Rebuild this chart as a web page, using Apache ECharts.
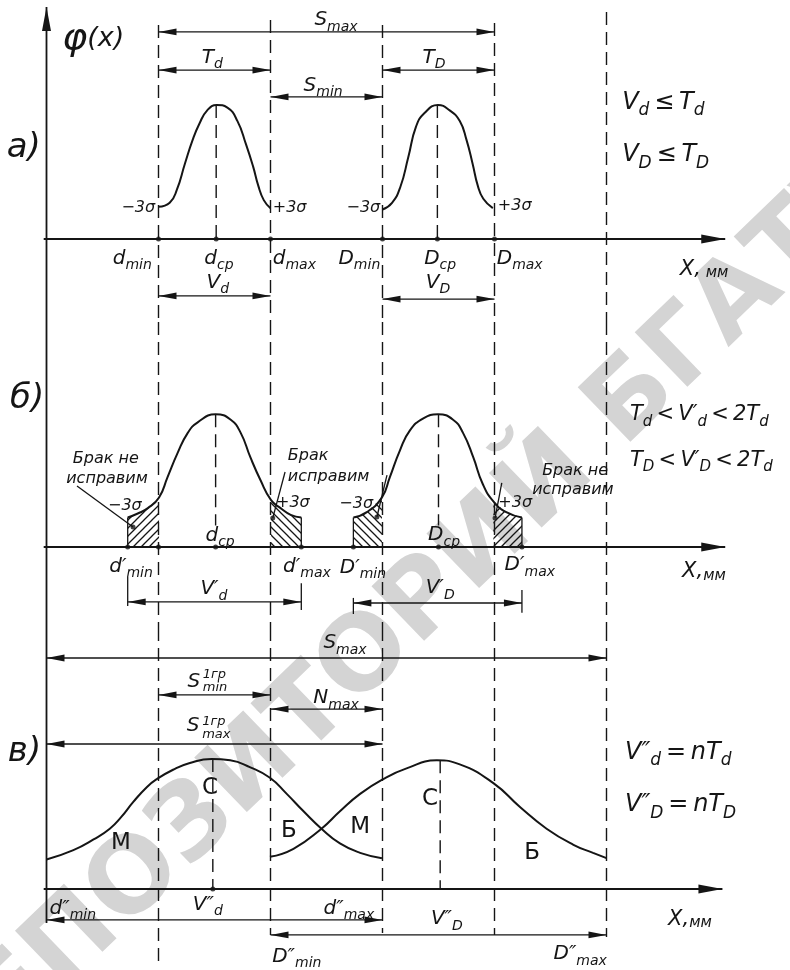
<!DOCTYPE html>
<html>
<head>
<meta charset="utf-8">
<script src="https://cdn.jsdelivr.net/npm/echarts@6/dist/echarts.min.js"></script>
<style>
  html, body { margin: 0; background: #fff; }
  #chart { width: 790px; height: 970px; }
</style>
</head>
<body>
<div id="chart"></div>
<script>
// x: units along X (2 units = one tolerance field), y: phi(x), peak ~ 1

// ---- а) curves
const curveA1X = [2.0, 2.2, 2.33, 2.47, 2.61, 2.73, 2.87, 3.04, 3.23, 3.41, 3.56, 3.69, 3.78, 3.88, 4.0]
const curveA1Y = [0.24, 0.27, 0.37, 0.56, 0.74, 0.86, 0.96, 1.0, 0.98, 0.88, 0.71, 0.54, 0.40, 0.29, 0.23]
const curveA2X = [6.0, 6.17, 6.32, 6.46, 6.6, 6.75, 6.99, 7.2, 7.38, 7.5, 7.61, 7.7, 7.8, 7.97]
const curveA2Y = [0.22, 0.27, 0.39, 0.61, 0.84, 0.94, 1.0, 0.96, 0.88, 0.74, 0.56, 0.40, 0.30, 0.23]

// ---- б) curves
const curveB1X = [1.45, 1.63, 1.81, 2.01, 2.16, 2.34, 2.52, 2.70, 3.02, 3.29, 3.47, 3.64, 3.82, 4.01, 4.18, 4.36, 4.55]
const curveB1Y = [0.22, 0.25, 0.29, 0.37, 0.52, 0.70, 0.85, 0.93, 0.99, 0.95, 0.85, 0.67, 0.50, 0.35, 0.29, 0.24, 0.22]
const curveB2X = [5.48, 5.72, 5.99, 6.13, 6.31, 6.49, 6.73, 6.99, 7.26, 7.44, 7.62, 7.79, 7.98, 8.21, 8.49]
const curveB2Y = [0.22, 0.26, 0.37, 0.52, 0.72, 0.87, 0.96, 0.99, 0.95, 0.85, 0.67, 0.47, 0.34, 0.26, 0.22]

// ---- в) curves
const curveC1X = [0.0, 0.48, 0.84, 1.13, 1.34, 1.55, 1.79, 1.97, 2.26, 2.56, 2.95, 3.28, 3.63, 3.99, 4.29, 4.59, 4.91, 5.24, 5.60, 5.99]
const curveC1Y = [0.22, 0.29, 0.37, 0.45, 0.54, 0.65, 0.76, 0.82, 0.89, 0.94, 0.97, 0.96, 0.91, 0.83, 0.71, 0.58, 0.45, 0.34, 0.27, 0.23]
const curveC2X = [3.99, 4.41, 4.91, 5.24, 5.60, 6.01, 6.43, 6.97, 7.38, 7.98, 8.46, 8.93, 9.41, 9.76, 10.0]
const curveC2Y = [0.24, 0.30, 0.45, 0.58, 0.71, 0.82, 0.90, 0.96, 0.93, 0.79, 0.61, 0.45, 0.33, 0.27, 0.23]

// dimension arrows: [x1, x2, y, head at x1, head at x2]
const dimsA = [[2, 8, 1.545, 1, 1], [2, 4, 1.261, 1, 1], [6, 8, 1.261, 1, 1], [4, 6, 1.06, 1, 1], [2, 4, -0.425, 1, 1], [6, 8, -0.448, 1, 1]]
const dimsB = [[1.45, 4.55, -0.41, 1, 1], [5.48, 8.49, -0.418, 1, 1]]
const dimsC = [[0, 10, 1.724, 1, 1], [2, 4, 1.448, 1, 1], [4, 6, 1.343, 1, 1], [0, 6, 1.082, 1, 1], [0, 6, -0.231, 1, 1], [4, 10, -0.343, 1, 1]]

// vertical guide lines (dashed) and where they start / end
const guideX = [2, 4, 6, 8, 10]
const guideTop = [1.597, 1.634, 1.597, 1.612, 1.694]
const guideEnd = [-0.59, -0.343, -0.328, -0.343, -0.358]

// centre lines [x, yTop, x, yBottom]
const centerA = [[3.03, 1.0, 3.03, 0], [6.98, 1.0, 6.98, 0]]
const centerB = [[3.02, 0.99, 3.02, 0.16], [7.0, 0.99, 7.0, 0.16]]
const centerC = [[2.97, 0.97, 2.97, 0], [7.03, 0.96, 7.03, 0]]

// short solid strokes [x1, y1, x2, y2]
const strokesB = [
  [1.45, -0.224, 1.45, -0.44], [4.55, -0.27, 4.55, -0.47], [5.48, -0.38, 5.48, -0.5], [8.49, -0.32, 8.49, -0.49],
  [1.45, 0, 1.45, 0.22], [4.55, 0, 4.55, 0.22], [5.48, 0, 5.48, 0.22], [8.49, 0, 8.49, 0.22],
  [0.545, 0.455, 1.545, 0.149], [4.26, 0.56, 4.04, 0.216], [6.08, 0.537, 5.90, 0.224], [8.13, 0.478, 8.01, 0.216]
]

// hatched rejects: [xFrom, xTo, curve, direction]
const hatchB = [[1.45, 2.01, 0, 1], [4.01, 4.55, 0, -1], [5.48, 5.99, 1, -1], [7.98, 8.49, 1, 1]]

// dots on the axes
const dotsA = [[2, 0], [3.03, 0], [4, 0], [6, 0], [6.98, 0], [8, 0]]
const dotsB = [[1.45, 0], [2, 0], [3.02, 0], [4.55, 0], [5.48, 0], [7.0, 0], [8.49, 0], [1.545, 0.149], [4.04, 0.216], [5.90, 0.224], [8.01, 0.216]]
const dotsC = [[2.97, 0]]

// watermark text
const watermark = 'РЕПОЗИТОРИЙ БГАТУ'

// labels: [x, y, text, align]
const labelsA = [
  [-0.71, 0.68, '{P|а)}', 'left'],
  [0.28, 1.49, '{H|φ}{h|(x)}', 'left'],
  [5.17, 1.62, '{B|S}{s|max}'],
  [2.96, 1.34, '{B|T}{s|d}'],
  [6.92, 1.34, '{B|T}{s|D}'],
  [4.94, 1.13, '{B|S}{s|min}'],
  [3.06, -0.34, '{B|V}{s|d}'],
  [6.99, -0.34, '{B|V}{s|D}'],
  [1.88, -0.16, '{B|d}{s|min}', 'right'],
  [3.08, -0.16, '{B|d}{s|ср}'],
  [4.04, -0.16, '{B|d}{s|max}', 'left'],
  [5.96, -0.16, '{B|D}{s|min}', 'right'],
  [7.03, -0.16, '{B|D}{s|ср}'],
  [8.04, -0.16, '{B|D}{s|max}', 'left'],
  [11.31, -0.23, '{m|X,}{k| мм}', 'left'],
  [1.94, 0.23, '{t|−3σ}', 'right'],
  [4.04, 0.23, '{t|+3σ}', 'left'],
  [5.96, 0.23, '{t|−3σ}', 'right'],
  [8.06, 0.25, '{t|+3σ}', 'left'],
  [10.28, 1.0, '{F|V}{f|d}{F|\u2009≤\u2009T}{f|d}', 'left'],
  [10.28, 0.61, '{F|V}{f|D}{F|\u2009≤\u2009T}{f|D}', 'left']
]
const labelsB = [
  [-0.65, 1.10, '{P|б)}', 'left'],
  [2.99, -0.33, '{B|V′}{s|d}'],
  [7.03, -0.32, '{B|V′}{s|D}'],
  [1.51, -0.16, '{B|d′}{s|min}'],
  [3.10, 0.07, '{B|d}{s|ср}'],
  [4.65, -0.16, '{B|d′}{s|max}'],
  [5.65, -0.17, '{B|D′}{s|min}'],
  [7.10, 0.075, '{B|D}{s|ср}'],
  [8.63, -0.15, '{B|D′}{s|max}'],
  [11.35, -0.19, '{m|X,}{k|мм}', 'left'],
  [1.06, 0.66, '{t|Брак не}'],
  [1.08, 0.51, '{t|исправим}'],
  [1.40, 0.31, '{t|−3σ}'],
  [4.31, 0.68, '{t|Брак}', 'left'],
  [4.31, 0.52, '{t|исправим}', 'left'],
  [4.40, 0.33, '{t|+3σ}'],
  [5.53, 0.32, '{t|−3σ}'],
  [9.44, 0.57, '{t|Брак не}'],
  [9.40, 0.43, '{t|исправим}'],
  [8.37, 0.33, '{t|+3σ}'],
  [10.42, 0.97, '{G|T}{g|d}{G|\u2009<\u2009V′}{g|d}{G|\u2009<\u20092T}{g|d}', 'left'],
  [10.42, 0.63, '{G|T}{g|D}{G|\u2009<\u2009V′}{g|D}{G|\u2009<\u20092T}{g|d}', 'left']
]
const labelsC = [
  [-0.69, 1.02, '{P|в)}', 'left'],
  [5.33, 1.82, '{B|S}{s|max}'],
  [2.63, 1.53, '{B|S}'],
  [2.79, 1.60, '{u|1гр}', 'left'],
  [2.79, 1.50, '{u|min}', 'left'],
  [5.17, 1.41, '{B|N}{s|max}'],
  [2.62, 1.20, '{B|S}'],
  [2.78, 1.25, '{u|1гр}', 'left'],
  [2.78, 1.15, '{u|max}', 'left'],
  [2.88, -0.13, '{B|V″}{s|d}'],
  [7.15, -0.24, '{B|V″}{s|D}'],
  [0.47, -0.16, '{B|d″}{s|min}'],
  [5.40, -0.16, '{B|d″}{s|max}'],
  [4.47, -0.52, '{B|D″}{s|min}'],
  [9.53, -0.50, '{B|D″}{s|max}'],
  [11.1, -0.23, '{m|X,}{k|мм}', 'left'],
  [2.92, 0.75, '{L|С}'],
  [6.85, 0.67, '{L|С}'],
  [1.33, 0.34, '{L|М}'],
  [4.33, 0.43, '{L|Б}'],
  [5.60, 0.46, '{L|М}'],
  [8.67, 0.27, '{L|Б}'],
  [10.33, 1.0, '{F|V″}{f|d}{F|\u2009=\u2009nT}{f|d}', 'left'],
  [10.33, 0.61, '{F|V″}{f|D}{F|\u2009=\u2009nT}{f|D}', 'left']
]

// ---------------------------------------------------------------
const FONT = 'DejaVu Sans'
const INK = '#151515'
const X0 = 46.5, UX = 56, PX = 134, XMAX = 13
const panels = [
  {base: 239, top: 4, bottom: 322, axisEnd: 12.12},
  {base: 547, top: 322, bottom: 628, axisEnd: 12.12},
  {base: 889, top: 628, bottom: 970, axisEnd: 12.07}
]
panels.forEach(p => {
  p.ymin = -(p.bottom - p.base) / PX
  p.ymax = (p.base - p.top) / PX
})

const tok = (size, extra) => Object.assign({
  fontFamily: FONT, fontStyle: 'italic', fontSize: size, fill: INK, verticalAlign: 'bottom'
}, extra || {})
const RICH = {
  B: tok(20, {padding: [0, 0, 4, 0]}),
  s: tok(14),
  u: tok(13, {verticalAlign: 'middle'}),
  F: tok(24, {padding: [0, 0, 5, 0]}),
  f: tok(17),
  G: tok(21, {padding: [0, 0, 4, 0]}),
  g: tok(15),
  P: tok(34, {verticalAlign: 'middle'}),
  H: tok(38, {verticalAlign: 'middle'}),
  h: tok(27, {verticalAlign: 'middle'}),
  t: tok(16, {verticalAlign: 'middle'}),
  m: tok(21, {padding: [0, 0, 1, 0]}),
  k: tok(15),
  L: tok(23, {verticalAlign: 'middle', fontStyle: 'normal'})
}

function hatchTile(dir) {
  const n = 8
  const c = document.createElement('canvas')
  c.width = n
  c.height = n
  const g = c.getContext('2d')
  g.strokeStyle = INK
  g.lineWidth = 1.3
  g.beginPath()
  if (dir > 0) {
    g.moveTo(-1, n + 1); g.lineTo(n + 1, -1)
    g.moveTo(-1, 1); g.lineTo(1, -1)
    g.moveTo(n - 1, n + 1); g.lineTo(n + 1, n - 1)
  } else {
    g.moveTo(-1, -1); g.lineTo(n + 1, n + 1)
    g.moveTo(-1, n - 1); g.lineTo(1, n + 1)
    g.moveTo(n - 1, -1); g.lineTo(n + 1, 1)
  }
  g.stroke()
  return c
}
const hatchFwd = {image: hatchTile(1), repeat: 'repeat'}
const hatchBack = {image: hatchTile(-1), repeat: 'repeat'}

const seg = (a, b, width, dash) => ({
  type: 'line',
  shape: {x1: a[0], y1: a[1], x2: b[0], y2: b[1]},
  style: {stroke: INK, lineWidth: width, lineDash: dash || null}
})

function head(tip, from, len, w) {
  const dx = tip[0] - from[0], dy = tip[1] - from[1]
  const l = Math.hypot(dx, dy)
  const ux = dx / l, uy = dy / l
  const bx = tip[0] - ux * len, by = tip[1] - uy * len
  return {
    type: 'polygon',
    shape: {points: [tip, [bx - uy * w, by + ux * w], [bx + uy * w, by - ux * w]]},
    style: {fill: INK}
  }
}

function custom(idx, list, render) {
  return {
    type: 'custom', xAxisIndex: idx, yAxisIndex: idx, silent: true, clip: false, z: 3,
    data: list.map(() => [0, 0]),
    renderItem: (params, api) => render(list[params.dataIndex], api)
  }
}

const drawSegs = (width, dash) => (d, api) =>
  seg(api.coord([d[0], d[1]]), api.coord([d[2], d[3]]), width, dash)

function drawDim(d, api) {
  const a = api.coord([d[0], d[2]]), b = api.coord([d[1], d[2]])
  const children = [seg(a, b, 1.3)]
  if (d[3]) children.push(head(a, b, 18, 3.4))
  if (d[4]) children.push(head(b, a, 18, 3.4))
  return {type: 'group', children}
}

function drawAxisArrow(d, api) {
  const a = api.coord([d[0], d[1]]), b = api.coord([d[2], d[3]])
  return {type: 'group', children: [seg(a, b, 1.8), head(b, a, 24, 4.5)]}
}

function drawLabel(d, api) {
  const p = api.coord([d[0], d[1]])
  return {
    type: 'text', x: p[0], y: p[1],
    style: {
      text: d[2], rich: RICH, align: d[3] || 'center', verticalAlign: 'middle',
      fill: INK, font: 'italic 16px "' + FONT + '"'
    }
  }
}

const curvesB = [[curveB1X, curveB1Y], [curveB2X, curveB2Y]]
function drawHatch(d, api) {
  const [cx, cy] = curvesB[d[2]]
  const pts = []
  cx.forEach((x, i) => {
    if (x >= d[0] - 1e-6 && x <= d[1] + 1e-6) pts.push(api.coord([x, cy[i]]))
  })
  pts.push(api.coord([d[1], 0]))
  pts.push(api.coord([d[0], 0]))
  return {type: 'polygon', shape: {points: pts}, style: {fill: d[3] > 0 ? hatchFwd : hatchBack}}
}

const curveSeries = (idx, xs, ys) => ({
  type: 'line', xAxisIndex: idx, yAxisIndex: idx, smooth: 0.5, showSymbol: false, silent: true, z: 4,
  lineStyle: {color: INK, width: 2},
  data: xs.map((x, i) => [x, ys[i]])
})

const dotSeries = (idx, pts) => ({
  type: 'scatter', xAxisIndex: idx, yAxisIndex: idx, symbolSize: 5, silent: true, z: 5,
  itemStyle: {color: INK}, data: pts
})

// guides, main vertical axis and x axes, split by panel
const guideSegs = panels.map((p, k) => guideX.map((x, i) => [
  x, k === 0 ? guideTop[i] : p.ymax, x, k === 2 ? guideEnd[i] : p.ymin
]))
const vAxis = [
  [], [[0, panels[1].ymin, 0, panels[1].ymax]], [[0, panels[2].ymax, 0, -0.254]]
]
const arrows = panels.map((p, k) => {
  const list = [[-0.05, 0, p.axisEnd, 0]]
  if (k === 0) list.push([0, p.ymin, 0, 1.731])
  return list
})

const series = []
const dims = [dimsA, dimsB, dimsC]
const centers = [centerA, centerB, centerC]
const labels = [labelsA, labelsB, labelsC]
const dots = [dotsA, dotsB, dotsC]
const curves = [
  [[curveA1X, curveA1Y], [curveA2X, curveA2Y]],
  curvesB,
  [[curveC1X, curveC1Y], [curveC2X, curveC2Y]]
]
panels.forEach((p, k) => {
  series.push(custom(k, guideSegs[k], drawSegs(1.4, [13, 7])))
  series.push(custom(k, centers[k], drawSegs(1.4, [13, 7])))
  series.push(custom(k, vAxis[k], drawSegs(1.8)))
  series.push(custom(k, arrows[k], drawAxisArrow))
  series.push(custom(k, dims[k], drawDim))
  series.push(custom(k, labels[k], drawLabel))
  curves[k].forEach(c => series.push(curveSeries(k, c[0], c[1])))
  series.push(dotSeries(k, dots[k]))
})
series.push(custom(1, hatchB, drawHatch))
series.push(custom(1, strokesB, drawSegs(1.3)))

const chart = echarts.init(document.getElementById('chart'), null, {renderer: 'canvas'})
chart.setOption({
  backgroundColor: '#ffffff',
  animation: false,
  graphic: [{
    type: 'text', z: -10, silent: true,
    x: 406, y: 621, rotation: Math.PI * 44 / 180,
    style: {text: watermark, fill: '#d4d4d4', font: 'bold 104px "DejaVu Sans"', align: 'center', verticalAlign: 'middle'}
  }],
  grid: panels.map(p => ({left: X0, top: p.top, width: XMAX * UX, height: p.bottom - p.top})),
  xAxis: panels.map((p, k) => ({type: 'value', gridIndex: k, min: 0, max: XMAX, show: false})),
  yAxis: panels.map((p, k) => ({type: 'value', gridIndex: k, min: p.ymin, max: p.ymax, show: false})),
  series
})
</script>
</body>
</html>
